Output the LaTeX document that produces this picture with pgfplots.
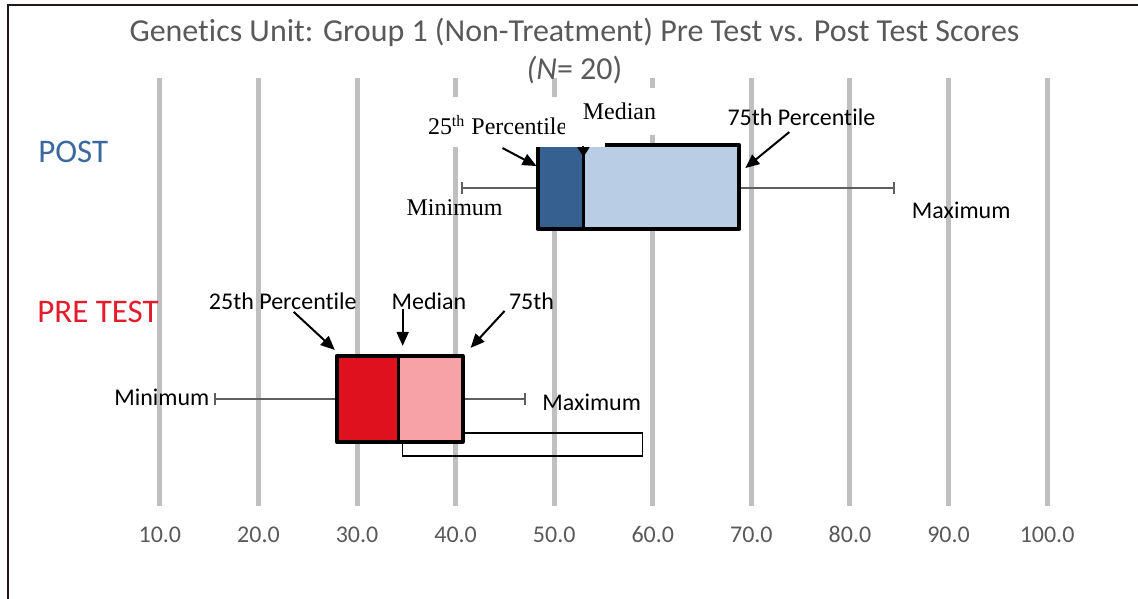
\documentclass[border=0pt]{standalone}
\usepackage{fontspec}
\setmainfont{Carlito}[Ligatures=NoCommon]
\newfontfamily\timesf{Liberation Serif}
\usepackage{pgfplots}
\pgfplotsset{compat=1.18}
\usetikzlibrary{arrows.meta}
\definecolor{postDark}{HTML}{36608F}
\definecolor{postLight}{HTML}{B9CDE5}
\definecolor{preDark}{HTML}{E0111F}
\definecolor{preLight}{HTML}{F7A2A7}
\definecolor{postText}{HTML}{3C68A0}
\definecolor{preText}{HTML}{E31B2A}
\definecolor{titlec}{HTML}{595959}
\definecolor{gridc}{HTML}{BFBFBF}
\definecolor{whc}{HTML}{5F5F5F}
\definecolor{framec}{HTML}{1F1A17}
\begin{document}
\begin{tikzpicture}
\begin{axis}[
  scale only axis, width=569pt, height=299pt,
  xmin=-6.216, xmax=109.12, ymin=0, ymax=598,
  axis line style={draw=none}, ytick=\empty,
  xtick={10,20,30,40,50,60,70,80,90,100},
  xticklabels={10.0,20.0,30.0,40.0,50.0,60.0,70.0,80.0,90.0,100.0},
  major tick length=0pt,
  xticklabel style={anchor=center, yshift=31.5pt, font=\fontsize{12}{14}\selectfont, text=titlec},
  /pgf/number format/assume math mode=true,
  clip=false,
]
% frame
\addplot[draw=framec, line width=1pt, line cap=rect] coordinates {(-5.405,0) (-5.405,593) (109.12,593)};
% gridlines
\pgfplotsinvokeforeach{10,20,30,40,50,60,70,80,90,100}{
  \addplot[gridc, line width=2.5pt] coordinates {(#1,92) (#1,520)};
}
% POST whiskers
\addplot[whc, line width=1pt] coordinates {(40.61,410) (48.31,410)};
\addplot[whc, line width=1pt] coordinates {(68.78,410) (84.49,410)};
\addplot[whc, line width=1pt] coordinates {(40.61,404) (40.61,416)};
\addplot[whc, line width=1pt] coordinates {(84.49,404) (84.49,416)};
% POST box
\addplot[fill=postDark, draw=none] coordinates {(48.31,369) (52.97,369) (52.97,453) (48.31,453)} --cycle;
\addplot[fill=postLight, draw=none] coordinates {(52.97,369) (68.78,369) (68.78,453) (52.97,453)} --cycle;
\addplot[black, line width=2pt, line join=round] coordinates {(48.31,369) (68.78,369) (68.78,453) (48.31,453)} --cycle;
\addplot[black, line width=1.5pt] coordinates {(52.97,369) (52.97,453)};
% extra empty rectangle (behind the PRE box)
\addplot[black, line width=0.75pt] coordinates {(34.63,142) (58.95,142) (58.95,165) (34.63,165)} --cycle;
% PRE whiskers
\addplot[whc, line width=1pt] coordinates {(15.57,199) (27.94,199)};
\addplot[whc, line width=1pt] coordinates {(40.71,199) (46.99,199)};
\addplot[whc, line width=1pt] coordinates {(15.57,193) (15.57,205)};
\addplot[whc, line width=1pt] coordinates {(46.99,193) (46.99,205)};
% PRE box
\addplot[fill=preDark, draw=none] coordinates {(27.94,156) (34.22,156) (34.22,242) (27.94,242)} --cycle;
\addplot[fill=preLight, draw=none] coordinates {(34.22,156) (40.71,156) (40.71,242) (34.22,242)} --cycle;
\addplot[black, line width=2pt, line join=round] coordinates {(27.94,156) (40.71,156) (40.71,242) (27.94,242)} --cycle;
\addplot[black, line width=1.5pt] coordinates {(34.22,156) (34.22,242)};

% POST annotations
\fill[white] (axis cs:36.86,451) rectangle (axis cs:51.05,501);
\node[anchor=west, font=\timesf\fontsize{12}{14}\selectfont, inner sep=0pt] at (axis cs:37.16,473) {25\textsuperscript{th} Percentile};
\fill[white] (axis cs:51.05,463) rectangle (axis cs:60.88,510);
\fill[white] (axis cs:51.05,451) rectangle (axis cs:55.2,463);
\node[font=\timesf\fontsize{12}{14}\selectfont] at (axis cs:56.62,487) {Median};
\draw[-{Triangle[length=5pt,width=6pt]}, line width=1pt] (axis cs:52.97,452) -- (axis cs:52.97,441);
\node[font=\fontsize{12}{14}\selectfont] at (axis cs:75.07,481) {75th Percentile};
\node[font=\timesf\fontsize{12}{14}\selectfont] at (axis cs:39.9,390) {Minimum};
\node[font=\fontsize{12}{14}\selectfont] at (axis cs:91.28,388) {Maximum};
\draw[-{Triangle[length=7pt,width=6pt]}, line width=1pt] (axis cs:44.76,450) -- (axis cs:48.21,432);
\draw[-{Triangle[length=7pt,width=6pt]}, line width=1pt] (axis cs:73.85,466) -- (axis cs:69.39,430);

% PRE annotations
\node[font=\fontsize{12}{14}\selectfont] at (axis cs:22.47,297) {25th Percentile};
\node[font=\fontsize{12}{14}\selectfont] at (axis cs:37.3,297) {Median};
\node[font=\fontsize{12}{14}\selectfont] at (axis cs:47.7,297) {75th};
\node[font=\fontsize{12}{14}\selectfont] at (axis cs:10.2,201) {Minimum};
\node[font=\fontsize{12}{14}\selectfont] at (axis cs:53.8,196) {Maximum};
\draw[-{Triangle[length=7pt,width=6pt]}, line width=1pt] (axis cs:23.58,286) -- (axis cs:27.74,248);
\draw[-{Triangle[length=7pt,width=6pt]}, line width=1pt] (axis cs:34.63,289) -- (axis cs:34.63,252);
\draw[-{Triangle[length=7pt,width=6pt]}, line width=1pt] (axis cs:44.97,287) -- (axis cs:41.52,250);

% group labels
\node[anchor=west, inner sep=0pt, font=\fontsize{16.5}{18}\selectfont, text=postText] at (axis cs:-2.37,446) {POST};
\node[anchor=west, inner sep=0pt, font=\fontsize{16.5}{18}\selectfont, text=preText] at (axis cs:-2.47,286) {PRE TEST};

% title
\node[font=\fontsize{16}{18}\selectfont, text=titlec] at (axis cs:52.06,566) {Genetics Unit: Group 1 (Non-Treatment) Pre Test vs. Post Test Scores};
\node[font=\fontsize{16}{18}\selectfont, text=titlec] at (axis cs:52.06,528) {\textit{(N}= 20)};
\end{axis}
\end{tikzpicture}
\end{document}
